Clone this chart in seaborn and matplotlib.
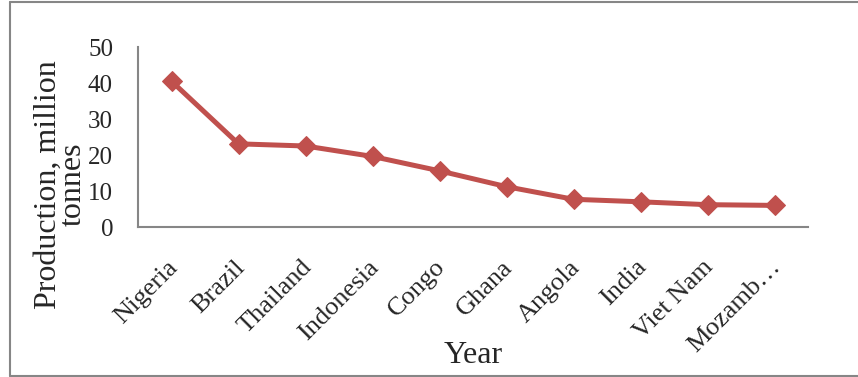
import numpy as np
import pandas as pd
import matplotlib
matplotlib.use("Agg")
import matplotlib.pyplot as plt
import matplotlib.transforms as mtransforms
from matplotlib.lines import Line2D
import seaborn as sns

# Cassava production by country (million tonnes)
countries = ["Nigeria", "Brazil", "Thailand", "Indonesia", "Congo",
             "Ghana", "Angola", "India", "Viet Nam", "Mozambique"]
tick_labels = ["Nigeria", "Brazil", "Thailand", "Indonesia", "Congo",
               "Ghana", "Angola", "India", "Viet Nam", "Mozamb\u2026"]
production = [40.5, 23.1, 22.5, 19.6, 15.6, 11.2, 7.7, 7.0, 6.2, 6.0]
y_ticks = [0, 10, 20, 30, 40, 50]

df = pd.DataFrame({"pos": np.arange(len(countries)),
                   "country": countries,
                   "production": production})

sns.set_style("white")
plt.rcParams["font.family"] = ["Liberation Serif", "DejaVu Serif"]

RED = "#C0504D"
GREY = "#868686"

fig = plt.figure(figsize=(8.58, 3.77), dpi=100)
ax = fig.add_axes([138 / 858, 1 - 227 / 377, 670 / 858, 180 / 377])

sns.lineplot(data=df, x="pos", y="production", ax=ax, color=RED,
             linewidth=3.6, marker="D", markersize=10,
             markeredgecolor=RED, markerfacecolor=RED, sort=False)

ax.set_xlim(-0.5, len(countries) - 0.5)
ax.set_ylim(0, 50)
ax.set_yticks(y_ticks)
ax.set_yticklabels([str(v) for v in y_ticks], fontsize=18)
ax.set_xticks(df["pos"])
ax.set_xticklabels(tick_labels, fontsize=19, rotation=45, ha="right",
                   va="top", rotation_mode="anchor")
ax.tick_params(axis="x", length=0, pad=21)
ax.tick_params(axis="y", length=0, pad=18)

# nudge the slanted category labels a little to the left
shift = mtransforms.ScaledTranslation(-5 / 100, 0, fig.dpi_scale_trans)
for lbl in ax.get_xticklabels():
    lbl.set_transform(lbl.get_transform() + shift)

for side in ("top", "right"):
    ax.spines[side].set_visible(False)
for side in ("left", "bottom"):
    ax.spines[side].set_color(GREY)
    ax.spines[side].set_linewidth(1.5)

ax.set_xlabel("Year", fontsize=23)
ax.set_ylabel("Production, million\ntonnes", fontsize=23, linespacing=0.82)
ax.xaxis.set_label_coords(0.5, -0.635)
ax.yaxis.set_label_coords(-0.075, 0.235)

# chart-area frame (open on the right)
W, H = 858, 377
frame = [((10, 376), (10, 2)), ((10, 2), (W, 2)), ((10, 376), (W, 376))]
for (x0, y0), (x1, y1) in frame:
    fig.add_artist(Line2D([x0 / W, x1 / W], [1 - y0 / H, 1 - y1 / H],
                          transform=fig.transFigure, color=GREY, linewidth=1.5))

fig.savefig("out.png", dpi=100)
